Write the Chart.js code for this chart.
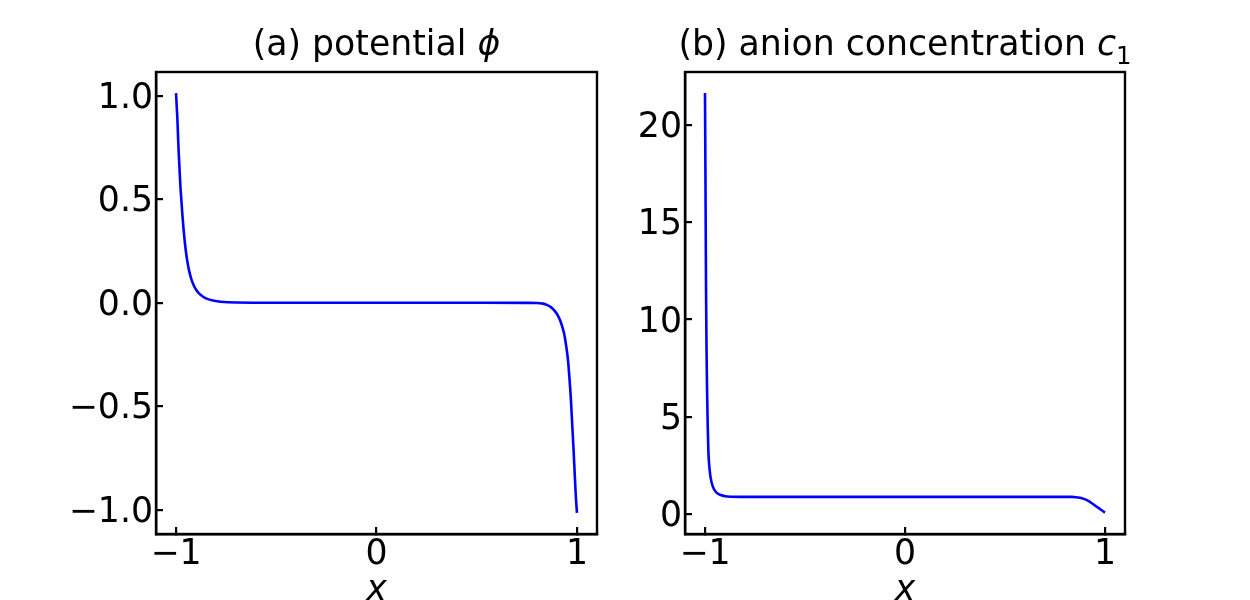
<!DOCTYPE html>
<html><head><meta charset="utf-8">
<script src="https://cdn.jsdelivr.net/npm/chart.js@4.4.0/dist/chart.umd.min.js"></script>
<style>
html,body{margin:0;padding:0;background:#fff;}
#wrap{position:relative;width:1250px;height:600px;overflow:hidden;background:#fff;}
canvas{position:absolute;top:0;}
</style></head><body>
<div id="wrap">
<canvas id="cA" width="640" height="600" style="left:0px"></canvas>
<canvas id="cB" width="630" height="600" style="left:620px"></canvas>
</div>
<script>
// ---- data ----
const xPhi = [-1.0, -0.9967, -0.9935, -0.9903, -0.987, -0.9828, -0.9786, -0.973, -0.967, -0.959, -0.9507, -0.9435, -0.9357, -0.925, -0.9138, -0.9, -0.8858, -0.865, -0.844, -0.81, -0.7777, -0.7, -0.5, 0, 0.5, 0.75, 0.8, 0.83, 0.85, 0.87, 0.89, 0.905, 0.92, 0.935, 0.945, 0.955, 0.963, 0.97, 0.977, 0.982, 0.986, 0.99, 0.993, 0.996, 1.0];
const phiValues = [1.013, 0.95, 0.892, 0.81, 0.731, 0.65, 0.569, 0.49, 0.408, 0.32, 0.247, 0.199, 0.159, 0.118, 0.0885, 0.0631, 0.0455, 0.0291, 0.0189, 0.0096, 0.005, 0.0011, 0, 0, 0, -0.0005, -0.001, -0.004, -0.010, -0.021, -0.040, -0.062, -0.095, -0.145, -0.200, -0.275, -0.37, -0.47, -0.60, -0.69, -0.77, -0.85, -0.91, -0.96, -1.015];

const xConc = [-1.0, -0.9975, -0.995, -0.9925, -0.99, -0.9865, -0.983, -0.977, -0.9715, -0.962, -0.9515, -0.937, -0.9216, -0.9, -0.8716, -0.8, 0, 0.8, 0.834, 0.854, 0.874, 0.894, 0.914, 0.934, 0.967, 1.0];
const concValues = [21.64, 16.9, 11.8, 8.6, 6.6, 4.6, 3.2, 2.3, 1.85, 1.45, 1.22, 1.06, 0.98, 0.92, 0.895, 0.887, 0.887, 0.887, 0.887, 0.872, 0.841, 0.785, 0.692, 0.559, 0.32, 0.08];

const xTicks = [-1, 0, 1];
const phiTicks = [-1, -0.5, 0, 0.5, 1];
const concTicks = [0, 5, 10, 15, 20];
const xLabel = 'x';
const titleA = [{t:'(a) potential ', it:false}, {t:'ϕ', it:true}];
const titleB = [{t:'(b) anion concentration ', it:false}, {t:'c', it:true}, {t:'1', it:false, sub:true}];

// ---- drawing ----
const FAM = '"DejaVu Sans", sans-serif';
const FS = 34.7;
function fmt(v, d){ const s = Math.abs(v).toFixed(d); return (v < -1e-9 ? '\u2212' : '') + s; }

const framePlugin = {
  id:'frame',
  afterDraw(chart){
    const {ctx, chartArea:a} = chart;
    ctx.save();
    ctx.strokeStyle = '#000'; ctx.lineWidth = 2.4;
    ctx.strokeRect(a.left, a.top, a.right - a.left, a.bottom - a.top);
    const parts = chart.options.plugins.frame.parts;
    const fonts = parts.map(p => p.sub ? (FS*0.7).toFixed(1)+'px '+FAM : (p.it ? 'italic ' : '') + FS + 'px ' + FAM);
    let total = 0;
    const widths = parts.map((p,i)=>{ ctx.font = fonts[i]; const w = ctx.measureText(p.t).width; total += w; return w; });
    let x = (a.left + a.right)/2 - total/2;
    ctx.fillStyle = '#000'; ctx.textBaseline = 'alphabetic'; ctx.textAlign = 'left';
    parts.forEach((p,i)=>{ ctx.font = fonts[i]; ctx.fillText(p.t, x, p.sub ? 64 : 55); x += widths[i]; });
    ctx.restore();
  }
};

function makePanel(id, xs, ys, yTicks, yMin, yMax, dec, area, parts){
  const cv = document.getElementById(id);
  const W = cv.width, H = cv.height;
  const pts = xs.map((x,i)=>({x:x, y:ys[i]}));
  const tickFont = {family:FAM, size:FS};
  return new Chart(cv, {
    type:'line',
    data:{datasets:[{data:pts, borderColor:'#0000ff', borderWidth:2.6, pointRadius:0, fill:false, cubicInterpolationMode:'monotone'}]},
    plugins:[framePlugin],
    options:{
      responsive:false, animation:false, devicePixelRatio:1,
      layout:{padding:{left:0, top:area.top, right:W - area.right, bottom:0}},
      plugins:{legend:{display:false}, tooltip:{enabled:false}, title:{display:false}, frame:{parts:parts}},
      scales:{
        x:{type:'linear', position:'bottom', min:-1.1, max:1.1,
          afterBuildTicks:s=>{ s.ticks = xTicks.map(v=>({value:v})); },
          afterFit:s=>{ s.height = H - area.bottom; },
          ticks:{font:tickFont, color:'#000', padding:7, autoSkip:false, maxRotation:0, callback:v=>fmt(v,0)},
          grid:{display:true, drawOnChartArea:false, drawTicks:true, tickLength:-7, lineWidth:2.2, color:'#000'},
          border:{display:true, color:'#000', width:2.4},
          title:{display:true, text:xLabel, color:'#000', font:{family:FAM, size:FS, style:'italic'}, padding:{top:0, bottom:-12}}
        },
        y:{type:'linear', position:'left', min:yMin, max:yMax,
          afterBuildTicks:s=>{ s.ticks = yTicks.map(v=>({value:v})); },
          afterFit:s=>{ s.width = area.left; },
          ticks:{font:tickFont, color:'#000', padding:10, labelOffset:3, autoSkip:false, callback:v=>fmt(v,dec)},
          grid:{display:true, drawOnChartArea:false, drawTicks:true, tickLength:-7, lineWidth:2.2, color:'#000'},
          border:{display:true, color:'#000', width:2.4}
        }
      }
    }
  });
}

makePanel('cA', xPhi, phiValues, phiTicks, -1.117, 1.115, 1, {left:156, right:597, top:72, bottom:534}, titleA);
makePanel('cB', xConc, concValues, concTicks, -1.02, 22.72, 0, {left:65, right:505, top:72, bottom:534}, titleB);
</script>
</body></html>
